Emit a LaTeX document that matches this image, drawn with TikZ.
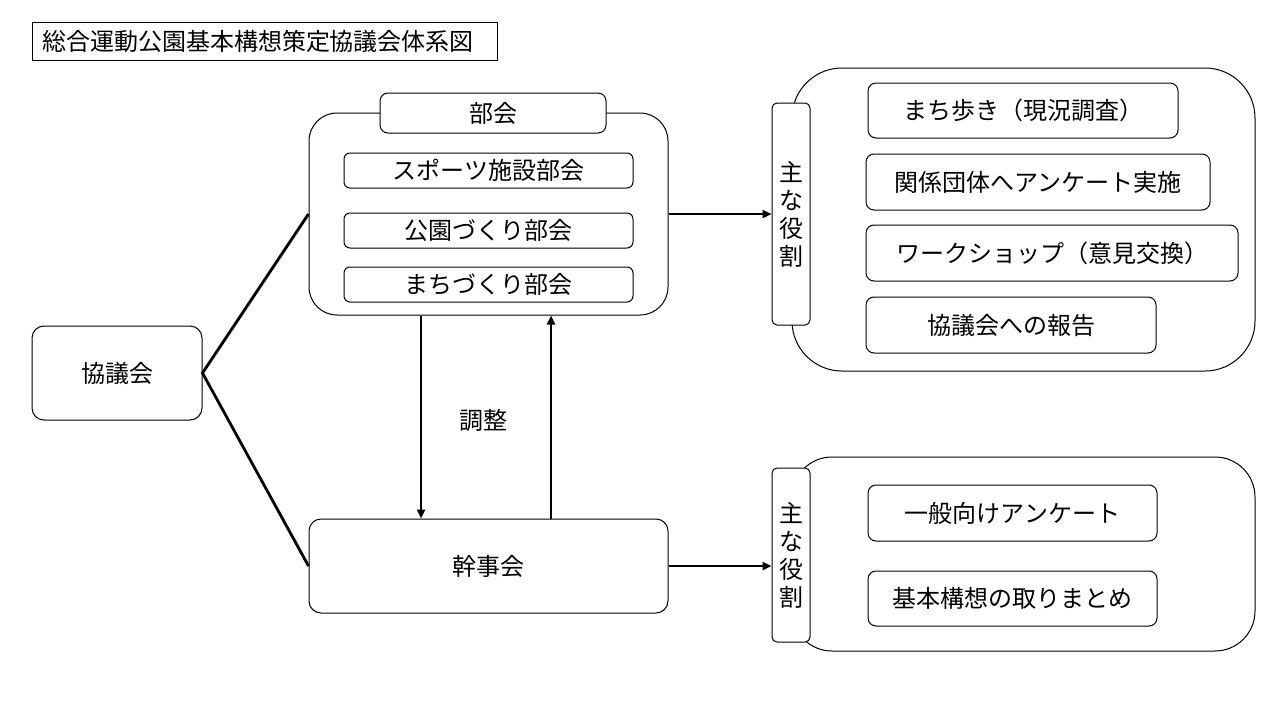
\documentclass[tikz,border=0pt]{standalone}
\usepackage{fontspec}
\setmainfont{Noto Sans CJK JP}
\usetikzlibrary{arrows.meta}
\tikzset{
  box/.style={draw, line width=1pt, inner sep=0pt, fill=white},
  rbox/.style={box, rounded corners=#1},
  txt/.style={font=\fontsize{24}{28}\selectfont},
  heavyline/.style={line width=2.8pt},
  arr/.style={line width=2.8pt, -{Triangle[length=9pt,width=8pt]}},
}
\begin{document}
\begin{tikzpicture}[x=1pt,y=-1pt]
\useasboundingbox (0,0) rectangle (1280,720);
% title
\node[box, txt, minimum width=465, minimum height=38, text width=445, align=left] (title) at (264.5,41) {総合運動公園基本構想策定協議会体系図};
% council
\node[rbox=12, txt, minimum width=170, minimum height=94] (kyogi) at (117,373) {協議会};
% subcommittee outer
\node[rbox=28, minimum width=359, minimum height=202] (bukai) at (488.5,214) {};
\node[rbox=8, txt, minimum width=226, minimum height=40] (bukailbl) at (493,113) {部会};
\node[rbox=6, txt, minimum width=289, minimum height=35] (sp) at (488.5,170.5) {スポーツ施設部会};
\node[rbox=6, txt, minimum width=289, minimum height=35] (ko) at (488.5,230.5) {公園づくり部会};
\node[rbox=6, txt, minimum width=289, minimum height=35] (ma) at (488.5,284.5) {まちづくり部会};
% executive
\node[rbox=12, txt, minimum width=359, minimum height=94] (kanji) at (488.5,566) {幹事会};
% adjustment label
\node[txt] (chosei) at (483,420) {調整};
% right big boxes
\node[rbox=50, minimum width=463, minimum height=303] (big1) at (1023.5,219.5) {};
\node[rbox=40, minimum width=463, minimum height=194] (big2) at (1023.5,554) {};
% role boxes
\node[rbox=5, txt, minimum width=38, minimum height=222, align=center] (role1) at (791,214) {主\\な\\役\\割};
\node[rbox=5, txt, minimum width=38, minimum height=174, align=center] (role2) at (791,555) {主\\な\\役\\割};
% items upper
\node[rbox=8, txt, minimum width=310, minimum height=55] (r1) at (1023,110.5) {まち歩き（現況調査）};
\node[rbox=8, txt, minimum width=344, minimum height=56] (r2) at (1038,182) {関係団体へアンケート実施};
\node[rbox=8, txt, minimum width=372, minimum height=56] (r3) at (1052,253) {ワークショップ（意見交換）};
\node[rbox=8, txt, minimum width=290, minimum height=56] (r4) at (1011,325) {協議会への報告};
% items lower
\node[rbox=8, txt, minimum width=289, minimum height=56] (r5) at (1012.5,513) {一般向けアンケート};
\node[rbox=8, txt, minimum width=289, minimum height=55] (r6) at (1012.5,598.5) {基本構想の取りまとめ};
% connectors
\draw[heavyline] (bukai.west) -- (kyogi.east) -- (kanji.west);
\coordinate (xa) at (421,0);
\coordinate (xb) at (551,0);
\draw[arr] (bukai.south -| xa) -- (kanji.north -| xa);
\draw[arr] (kanji.north -| xb) -- (bukai.south -| xb);
\draw[arr] (bukai.east) -- (role1.west);
\draw[arr] (kanji.east) -- (kanji.east -| role2.west);
\end{tikzpicture}
\end{document}
